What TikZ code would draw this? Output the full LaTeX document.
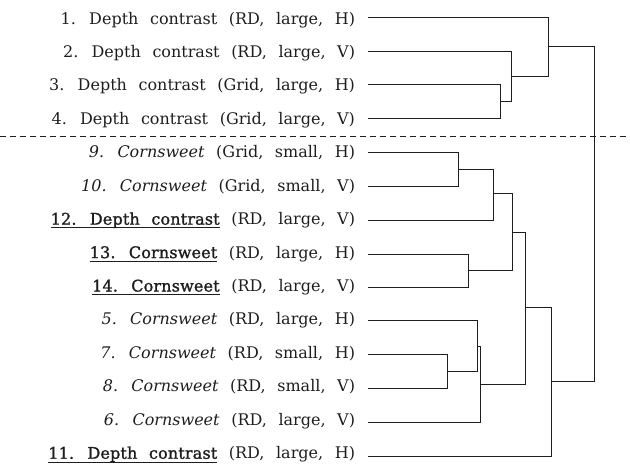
\documentclass[tikz,border=0pt]{standalone}
\usepackage{fontspec}
\setmainfont{DejaVu Serif}
\newfontfamily\ulfont{DejaVu Serif}[FakeBold=1.4,LetterSpace=1]
\usetikzlibrary{calc}
\definecolor{ink}{HTML}{1E1E1E}
\newcommand{\lblfont}{\fontsize{16}{19}\selectfont\spaceskip=11.6pt plus 1pt\relax}
\tikzset{
  lbl/.style={anchor=base east, inner sep=0pt, outer sep=0pt, text=ink, font=\lblfont},
  branch/.style={draw=ink, line width=1.2pt},
  sep/.style={draw=ink, line width=1.1pt, dash pattern=on 6pt off 4pt},
}
\newsavebox{\ulbox}
\newcommand{\ul}[1]{\sbox{\ulbox}{\ulfont #1}\rlap{\rule[-3.8pt]{\wd\ulbox}{1pt}}\usebox{\ulbox}}
\begin{document}
\begin{tikzpicture}[x=1pt,y=-1pt]
\useasboundingbox (0,0) rectangle (630,467);
% connector row positions
\def\yA{17.5}\def\yB{51.5}\def\yC{84.5}\def\yD{118.5}
\def\yE{152.5}\def\yF{186.5}\def\yG{220.5}\def\yH{254.5}\def\yI{287.5}
\def\yJ{320.5}\def\yK{354.5}\def\yL{388.5}\def\yM{422.5}\def\yN{456.5}
\def\lx{355}\def\sx{367.5}
% labels (baselines)
\node[lbl] (l1) at (\lx,24.0) {1. Depth contrast (RD, large, H)};
\node[lbl] (l2) at (\lx,57.44) {2. Depth contrast (RD, large, V)};
\node[lbl] (l3) at (\lx,90.88) {3. Depth contrast (Grid, large, H)};
\node[lbl] (l4) at (\lx,124.32) {4. Depth contrast (Grid, large, V)};
\node[lbl] (l9) at (\lx,157.76) {\textit{9. Cornsweet} (Grid, small, H)};
\node[lbl] (l10) at (\lx,191.2) {\textit{10. Cornsweet} (Grid, small, V)};
\node[lbl] (l12) at (\lx,224.64) {\ul{12. Depth contrast} (RD, large, V)};
\node[lbl] (l13) at (\lx,258.08) {\ul{13. Cornsweet} (RD, large, H)};
\node[lbl] (l14) at (\lx,291.52) {\ul{14. Cornsweet} (RD, large, V)};
\node[lbl] (l5) at (\lx,324.96) {\textit{5. Cornsweet} (RD, large, H)};
\node[lbl] (l7) at (\lx,358.4) {\textit{7. Cornsweet} (RD, small, H)};
\node[lbl] (l8) at (\lx,391.84) {\textit{8. Cornsweet} (RD, small, V)};
\node[lbl] (l6) at (\lx,425.28) {\textit{6. Cornsweet} (RD, large, V)};
\node[lbl] (l11) at (\lx,458.72) {\ul{11. Depth contrast} (RD, large, H)};
% leaf starts
\coordinate (s1) at (\sx,\yA);
\coordinate (s2) at (\sx,\yB);
\coordinate (s3) at (\sx,\yC);
\coordinate (s4) at (\sx,\yD);
\coordinate (s9) at (\sx,\yE);
\coordinate (s10) at (\sx,\yF);
\coordinate (s12) at (\sx,\yG);
\coordinate (s13) at (\sx,\yH);
\coordinate (s14) at (\sx,\yI);
\coordinate (s5) at (\sx,\yJ);
\coordinate (s7) at (\sx,\yK);
\coordinate (s8) at (\sx,\yL);
\coordinate (s6) at (\sx,\yM);
\coordinate (s11) at (\sx,\yN);
% merge points
\coordinate (m34) at (500.5,101.5);
\coordinate (m234) at (511.5,76.5);
\coordinate (m1234) at (548.5,46.5);
\coordinate (m910) at (458.5,169.5);
\coordinate (m91012) at (493.5,193.5);
\coordinate (m1314) at (468.5,270.5);
\coordinate (mA) at (512.5,232.5);
\coordinate (m78) at (447.5,371.5);
\coordinate (m578) at (477.5,346.5);
\coordinate (m5786) at (480.5,384.5);
\coordinate (mB) at (525.5,307.5);
\coordinate (mC) at (551.5,381.5);
\coordinate (root) at (594.5,214);
% separator
\coordinate (dl) at (0,136.5);
\coordinate (dr) at (630,136.5);
\draw[sep] (dl) -- (dr);
% dendrogram
\draw[branch] (s3) -| (m34) |- (s4);
\draw[branch] (s2) -| (m234) |- (m34);
\draw[branch] (s1) -| (m1234) |- (m234);
\draw[branch] (s9) -| (m910) |- (s10);
\draw[branch] (m910) -| (m91012) |- (s12);
\draw[branch] (s13) -| (m1314) |- (s14);
\draw[branch] (m91012) -| (mA) |- (m1314);
\draw[branch] (s7) -| (m78) |- (s8);
\draw[branch] (s5) -| (m578) |- (m78);
\draw[branch] (m578) -| (m5786) |- (s6);
\draw[branch] (mA) -| (mB) |- (m5786);
\draw[branch] (mB) -| (mC) |- (s11);
\draw[branch] (m1234) -| (root) |- (mC);
\end{tikzpicture}
\end{document}
